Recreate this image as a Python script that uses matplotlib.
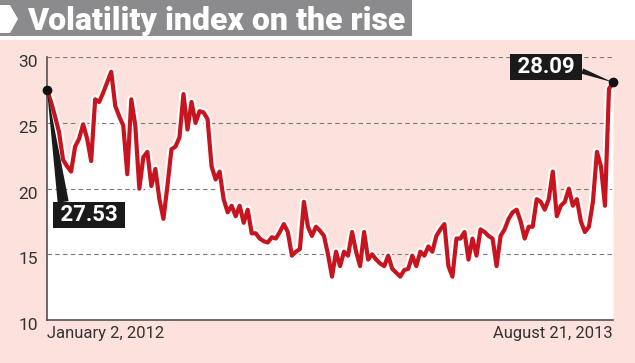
import matplotlib
matplotlib.use("Agg")
import matplotlib.pyplot as plt
import matplotlib.patheffects as pe
from matplotlib.patches import Rectangle, Polygon
from matplotlib.transforms import ScaledTranslation

# Volatility index, Jan 2 2012 .. Aug 21 2013
vix_2012a = [27.53, 26.6, 25.5, 24.3, 22.2, 21.7, 21.3, 23.2, 23.8, 24.9,
             23.8, 22.1, 26.8, 26.6, 27.3, 28.1, 28.9, 26.3, 25.5, 24.8,
             21.1, 26.8, 24.8, 20.0, 22.4, 22.8, 20.2, 21.5, 19.2, 17.7,
             20.2, 23.0, 23.2, 23.9, 27.2, 24.5, 26.6, 25.0, 25.9]
vix_2012b = [25.8, 25.3, 21.7, 20.7, 21.3, 19.2, 18.2, 18.7, 17.9, 18.7,
             17.4, 18.4, 16.6, 16.6, 16.2, 16.0, 15.9, 16.3, 16.2, 16.7,
             17.3, 16.7, 14.9, 15.2, 15.4, 19.0, 17.1, 16.4, 17.1, 16.8,
             16.4, 15.0, 13.3, 15.2, 14.1, 15.2, 14.9, 16.7, 15.2, 14.1,
             16.7, 14.6, 15.0, 14.6, 14.3, 14.1, 14.9, 13.9, 13.6, 13.3,
             13.8, 13.9]
vix_2013 = [14.9, 14.1, 15.2, 14.9, 15.6, 15.2, 16.4, 16.9, 17.3, 14.1,
            13.3, 16.2, 16.2, 16.7, 14.6, 16.2, 14.9, 16.9, 16.7, 16.4,
            16.2, 14.1, 16.4, 16.9, 17.7, 18.2, 18.4, 17.5, 16.2, 17.1,
            17.1, 19.2, 19.0, 18.4, 19.2, 21.3, 17.9, 18.7, 19.0, 20.0,
            18.7, 19.2, 17.5, 16.7, 17.1, 19.0, 22.8, 21.7, 18.7, 27.6,
            28.09]
vix = vix_2012a + vix_2012b + vix_2013
days = list(range(len(vix)))

y_ticks = [10, 15, 20, 25, 30]
x_labels = ["January 2, 2012", "August 21, 2013"]
title = "Volatility index on the rise"

pink = "#fce1dc"
red = "#c8141e"
W, H = 635, 363

fig = plt.figure(figsize=(W / 100, H / 100), dpi=100, facecolor=pink)

# header strip
fig.patches.append(Rectangle((0, 1 - 40 / H), 1, 40 / H, transform=fig.transFigure,
                             fc="white", ec="none", zorder=0))
fig.patches.append(Rectangle((0, 1 - 36 / H), 412 / W, 36 / H, transform=fig.transFigure,
                             fc="#8b8b8d", ec="none", zorder=1))
chev = [(0, 5), (10, 5), (18, 19), (10, 33), (0, 33)]
fig.patches.append(Polygon([(x / W, 1 - y / H) for x, y in chev], closed=True,
                           transform=fig.transFigure, fc="white", ec="none", zorder=2))
fig.text(27 / W, 1 - 30 / H, title, color="white", fontsize=23, family="Roboto",
         fontweight="heavy", va="baseline", ha="left")

ax = fig.add_axes([47 / W, 1 - 320 / H, 566 / W, 262.7 / H])
ax.set_facecolor("none")
ax.set_xlim(0, len(vix) - 1)
ax.set_ylim(10, 30)

ax.fill_between(days, vix, 10, color="white", lw=0, zorder=1)
for v in y_ticks[1:]:
    ax.axhline(v, color="#7a7a7a", lw=0.8, ls=(0, (4, 3)), zorder=2)
ax.plot(days, vix, color=red, lw=3, solid_joinstyle="round", zorder=3,
        path_effects=[pe.SimpleLineShadow(offset=(1, -1.2), shadow_color="#999999", alpha=0.5),
                      pe.Stroke(linewidth=6, foreground="white"), pe.Normal()])

for s in ["top", "right"]:
    ax.spines[s].set_visible(False)
for s in ["left", "bottom"]:
    ax.spines[s].set_color("#555050")
    ax.spines[s].set_linewidth(1.2)
    ax.spines[s].set_zorder(4)

ax.set_yticks(y_ticks)
ax.set_yticklabels([str(v) for v in y_ticks], fontsize=12.5, family="Roboto", color="#333333")
ax.tick_params(axis="y", length=0, pad=6.5)
for lab in ax.get_yticklabels():
    lab.set_transform(lab.get_transform() + ScaledTranslation(0, -0.04, fig.dpi_scale_trans))

ax.set_xticks([0, len(vix) - 1])
ax.set_xticklabels(x_labels, fontsize=12, family="Roboto", color="#333333")
ax.tick_params(axis="x", length=0, pad=4)
xl = ax.get_xticklabels()
xl[0].set_ha("left")
xl[1].set_ha("right")

# end points
ends = [(0, vix[0]), (len(vix) - 1, vix[-1])]
for x, y in ends:
    ax.plot(x, y, "o", color="#111111", ms=6, zorder=6, clip_on=False)

ax.annotate(" %.2f " % vix[0], xy=ends[0], xytext=(30.5, -90), textcoords="offset points",
            color="white", fontsize=16, family="Roboto", fontweight="bold",
            ha="center", va="center", zorder=7,
            bbox=dict(boxstyle="square,pad=0.08", fc="#1a1a1a", ec="none"),
            arrowprops=dict(arrowstyle="wedge,tail_width=0.5", fc="#1a1a1a", ec="none",
                            relpos=(0.12, 1.0), shrinkA=0, shrinkB=0))
ax.annotate(" %.2f " % vix[-1], xy=ends[1], xytext=(-48, 11), textcoords="offset points",
            color="white", fontsize=16, family="Roboto", fontweight="bold",
            ha="center", va="center", zorder=7,
            bbox=dict(boxstyle="square,pad=0.08", fc="#1a1a1a", ec="none"),
            arrowprops=dict(arrowstyle="wedge,tail_width=0.25", fc="#1a1a1a", ec="none",
                            relpos=(1.0, 0.35), shrinkA=0, shrinkB=0))

fig.savefig("out.png", dpi=100, facecolor=pink)
